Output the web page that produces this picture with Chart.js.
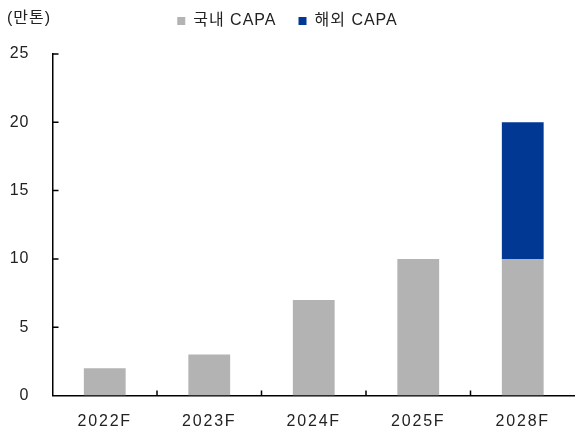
<!DOCTYPE html>
<html>
<head>
<meta charset="utf-8">
<script src="https://cdn.jsdelivr.net/npm/chart.js@4.4.0/dist/chart.umd.min.js"></script>
<style>
  html, body { margin: 0; padding: 0; background: #fff; }
  #wrap { width: 575px; height: 430px; }
</style>
</head>
<body>
<div id="wrap"><canvas id="c" width="575" height="430"></canvas></div>
<script>
// Capacity by year (10k tonnes)
const categories = ['2022F', '2023F', '2024F', '2025F', '2028F'];
const domesticCapa = [2, 3, 7, 10, 10];
const overseasCapa = [null, null, null, null, 10];
const seriesNames = ['국내 CAPA', '해외 CAPA'];
const yTickValues = [0, 5, 10, 15, 20, 25];
const unitLabel = '(만톤)';

const FONT = "'Liberation Sans', 'Noto Sans CJK KR', Arial, sans-serif";
const TEXT = '#222';
const LEGEND_EXTRA = 15; // extra room between the legend row and the plot

// Slightly spaced text throughout, a little wider on the category labels
const spacing = {
  id: 'spacing',
  beforeLayout(chart) { chart.ctx.letterSpacing = '1px'; },
  beforeDraw(chart) {
    chart.ctx.letterSpacing = '1px';
    const xs = chart.scales.x;
    if (xs && !xs._spacedLabels) {
      const draw = xs.drawLabels;
      xs.drawLabels = function (area) {
        const ctx = this.ctx;
        const prev = ctx.letterSpacing;
        ctx.letterSpacing = '1.8px';
        draw.call(this, area);
        ctx.letterSpacing = prev;
      };
      xs._spacedLabels = true;
    }
  }
};

// Taller legend box so the legend row sits high above the plot
const legendRoom = {
  id: 'legendRoom',
  afterInit(chart) {
    const lg = chart.legend;
    if (!lg || lg._roomPatched) return;
    const fit = lg.fit;
    lg.fit = function () {
      fit.call(this);
      this.height += LEGEND_EXTRA;
    };
    lg._roomPatched = true;
  }
};

// Inward tick marks on both axes plus the unit caption
const innerTicks = {
  id: 'innerTicks',
  afterDraw(chart) {
    const { ctx, chartArea: a, scales: { x, y } } = chart;
    ctx.save();
    ctx.strokeStyle = '#000';
    ctx.lineWidth = 1.5;
    ctx.beginPath();
    y.ticks.forEach(t => {
      if (t.value === 0) return;
      const py = y.getPixelForValue(t.value);
      ctx.moveTo(a.left, py);
      ctx.lineTo(a.left + 6, py);
    });
    for (let i = 0; i < categories.length - 1; i++) {
      const px = (x.getPixelForValue(i) + x.getPixelForValue(i + 1)) / 2;
      ctx.moveTo(px, a.bottom);
      ctx.lineTo(px, a.bottom - 5);
    }
    ctx.stroke();
    ctx.fillStyle = TEXT;
    ctx.font = '16px ' + FONT;
    ctx.letterSpacing = '1px';
    ctx.textBaseline = 'middle';
    ctx.textAlign = 'left';
    ctx.fillText(unitLabel, 7, 19);
    ctx.restore();
  }
};

new Chart(document.getElementById('c'), {
  type: 'bar',
  data: {
    labels: categories,
    datasets: [
      { label: seriesNames[0], data: domesticCapa, backgroundColor: '#b3b3b3', barPercentage: 0.4, categoryPercentage: 1 },
      { label: seriesNames[1], data: overseasCapa, backgroundColor: '#003893', barPercentage: 0.4, categoryPercentage: 1 }
    ]
  },
  options: {
    responsive: false,
    animation: false,
    devicePixelRatio: 1,
    layout: { padding: { top: -9, left: 0, right: 0, bottom: 0 } },
    plugins: {
      legend: {
        position: 'top',
        align: 'center',
        labels: {
          boxWidth: 8,
          boxHeight: 8,
          padding: 22,
          color: TEXT,
          font: { size: 16, family: FONT }
        }
      },
      tooltip: { enabled: false }
    },
    scales: {
      x: {
        stacked: true,
        grid: { display: false },
        border: { display: true, color: '#000', width: 1.5 },
        ticks: { color: TEXT, font: { size: 16, family: FONT }, padding: 8, maxRotation: 0, autoSkip: false },
        afterFit(s) { s.height = 34.5; }
      },
      y: {
        stacked: true,
        min: 0,
        max: 25,
        grid: { display: false },
        border: { display: true, color: '#000', width: 1.5 },
        ticks: { color: TEXT, font: { size: 16, family: FONT }, padding: 15 },
        afterBuildTicks(s) { s.ticks = yTickValues.map(v => ({ value: v })); },
        afterFit(s) { s.width = 52.5; }
      }
    }
  },
  plugins: [spacing, legendRoom, innerTicks]
});
</script>
</body>
</html>
